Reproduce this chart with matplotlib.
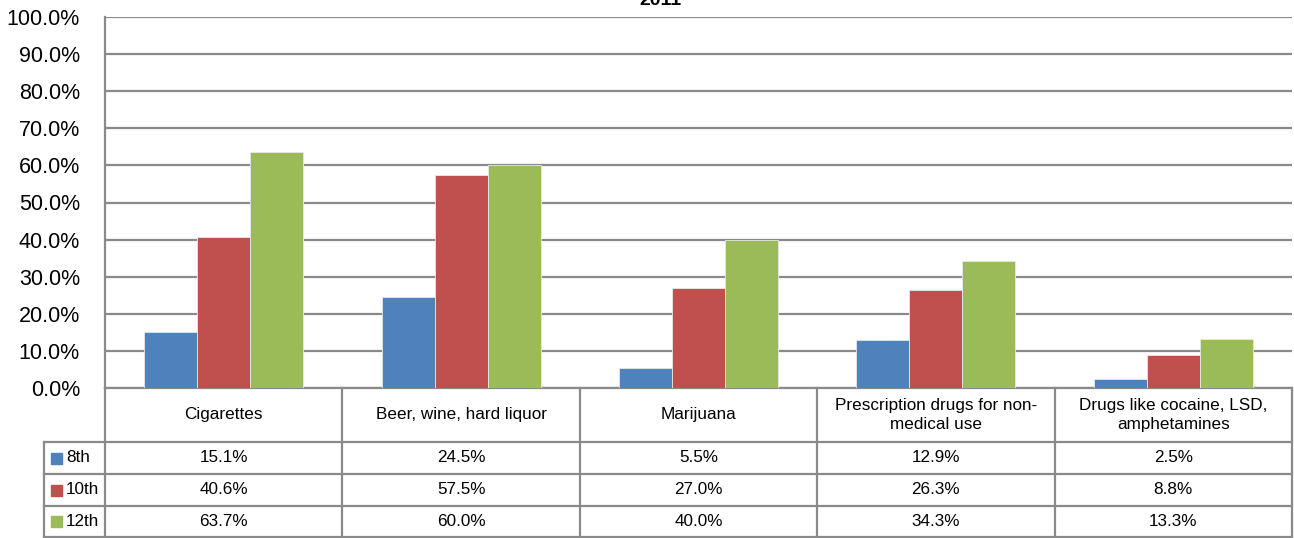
import numpy as np
import matplotlib
matplotlib.use('Agg')
import matplotlib.pyplot as plt
from matplotlib.patches import Rectangle

plt.rcParams['font.family'] = ['Liberation Sans', 'DejaVu Sans']

title = '2011'
categories = ['Cigarettes', 'Beer, wine, hard liquor', 'Marijuana',
              'Prescription drugs for non-\nmedical use',
              'Drugs like cocaine, LSD,\namphetamines']
grades = ['8th', '10th', '12th']
grade8 = [15.1, 24.5, 5.5, 12.9, 2.5]
grade10 = [40.6, 57.5, 27.0, 26.3, 8.8]
grade12 = [63.7, 60.0, 40.0, 34.3, 13.3]
series = [grade8, grade10, grade12]
colors = ['#4F81BD', '#C0504D', '#9BBB59']
yticks = np.arange(0, 101, 10)

W, H = 1294, 538
grid_col = '#8a8a8a'
fig = plt.figure(figsize=(W / 100, H / 100), dpi=100)

ax_l, ax_r, ax_t, ax_b = 105, 1292, 17, 388
ax = fig.add_axes([ax_l / W, 1 - ax_b / H, (ax_r - ax_l) / W, (ax_b - ax_t) / H])
x = np.arange(len(categories))
bw = 0.223
for k, vals in enumerate(series):
    ax.bar(x + (k - 1) * bw, vals, bw, color=colors[k], edgecolor='#e8e8e8',
           linewidth=0.6, zorder=3)
ax.set_xlim(-0.5, len(categories) - 0.5)
ax.set_ylim(0, 100)
ax.set_yticks(yticks)
ax.set_yticklabels([f'{t:.1f}%' for t in yticks], fontsize=15.5)
ax.tick_params(axis='y', length=0, pad=18)
ax.set_xticks([])
ax.grid(axis='y', color=grid_col, linewidth=1.6)
ax.set_axisbelow(True)
for s in ['top', 'right']:
    ax.spines[s].set_visible(False)
for s in ['left', 'bottom']:
    ax.spines[s].set_color(grid_col)
    ax.spines[s].set_linewidth(1.6)

# data table below the chart
lab_w = (ax_l - 44) / ((ax_r - ax_l) / len(categories))
tb_t, tb_b = ax_b, 537
tax = fig.add_axes([44 / W, 1 - tb_b / H, (ax_r - 44) / W, (tb_b - tb_t) / H])
tax.set_xlim(-0.5 - lab_w, len(categories) - 0.5)
tax.set_ylim(tb_b - tb_t, 0)
tax.axis('off')
row_edges = [0, 54, 86, 118, 149]
lw = 1.6
x0, x1 = -0.5 - lab_w, len(categories) - 0.5
# horizontal lines
for yy in row_edges[1:]:
    tax.plot([x0, x1], [yy, yy], color=grid_col, lw=lw, clip_on=False)
# vertical lines
for xx in np.arange(len(categories) + 1) - 0.5:
    tax.plot([xx, xx], [0, row_edges[-1]], color=grid_col, lw=lw, clip_on=False)
tax.plot([x0, x0], [row_edges[1], row_edges[-1]], color=grid_col, lw=lw, clip_on=False)

for i, cat in enumerate(categories):
    tax.text(i, row_edges[1] / 2, cat, ha='center', va='center', fontsize=12.3,
             linespacing=1.35)
for r, (g, vals) in enumerate(zip(grades, series)):
    yc = (row_edges[r + 1] + row_edges[r + 2]) / 2
    for i, v in enumerate(vals):
        tax.text(i, yc, f'{v:.1f}%', ha='center', va='center', fontsize=12.3)
    tax.add_patch(Rectangle((x0 + 0.03, yc - 5.5), 0.047, 11, color=colors[r],
                            clip_on=False))
    tax.text(x0 + 0.093, yc, g, ha='left', va='center', fontsize=12.3)

fig.text(660 / W, 1 - 5 / H, title, ha='center', va='baseline',
         fontsize=14, fontweight='bold')

fig.savefig('out.png', dpi=100)
